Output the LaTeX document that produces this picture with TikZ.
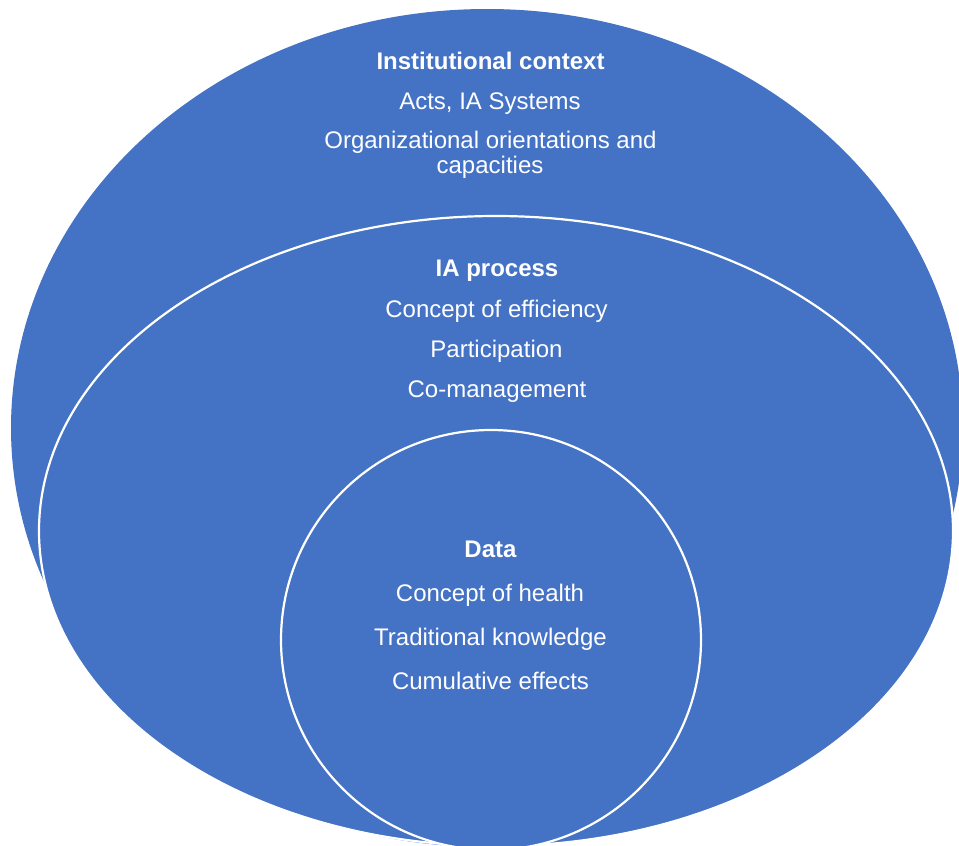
\documentclass[tikz,border=0pt]{standalone}
\usepackage{fontspec}
\setmainfont{Liberation Sans}
\definecolor{ringblue}{HTML}{4472C4}
\begin{document}
\begin{tikzpicture}[x=1pt,y=-1pt,
  ring/.style={fill=ringblue, draw=white, line width=2.2pt},
  lbl/.style={text=white, font=\fontsize{24}{24}\selectfont, inner sep=0pt, anchor=base},
  head/.style={lbl, font=\fontsize{24}{24}\selectfont\bfseries}]
\useasboundingbox (0,0) rectangle (959,846);
% three nested layers, clipped to the page
\begin{scope}
  \clip (0,0) rectangle (959,846);
  \fill[ringblue] (487,428) ellipse [x radius=476, y radius=419];
  \draw[ring] (496,531) ellipse [x radius=457, y radius=315];
  \draw[ring] (491,640) circle [radius=210];
\end{scope}
% outer layer
\node[head] (inst)    at (490.5,69)  {Institutional context};
\node[lbl]  (acts)    at (490,109)   {Acts, IA Systems};
\node[lbl]  (orientA) at (490.5,148) {Organizational orientations and};
\node[lbl]  (orientB) at (490,173)   {capacities};
% middle layer
\node[head] (iaproc)  at (497,276)   {IA process};
\node[lbl]  (effic)   at (496.5,317) {Concept of efficiency};
\node[lbl]  (partic)  at (496.5,357) {Participation};
\node[lbl]  (coman)   at (497,397)   {Co-management};
% inner layer
\node[head] (data)    at (490.5,557) {Data};
\node[lbl]  (health)  at (490,601)   {Concept of health};
\node[lbl]  (tradk)   at (490.5,645) {Traditional knowledge};
\node[lbl]  (cumul)   at (490.5,689) {Cumulative effects};
\end{tikzpicture}
\end{document}
